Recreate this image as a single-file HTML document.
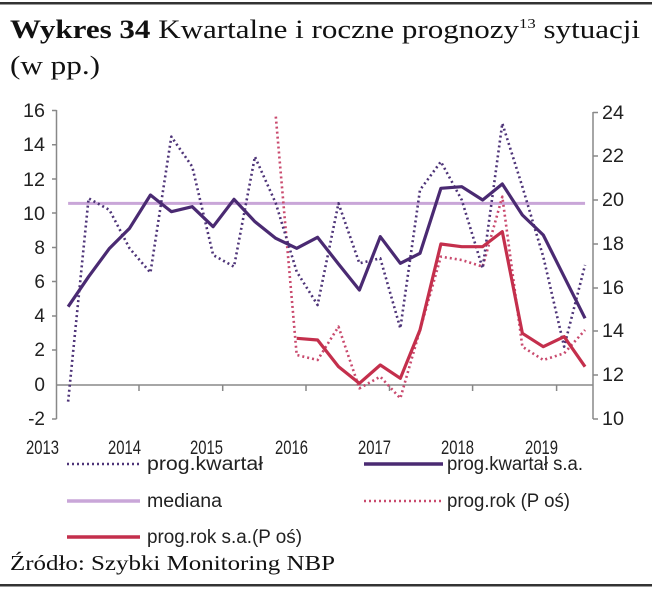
<!DOCTYPE html>
<html><head><meta charset="utf-8"><style>
body{margin:0;background:#fff;}
svg{display:block;}
.t{font-family:"Liberation Serif",serif;}
.a{font-family:"Liberation Sans",sans-serif;fill:#222;}
</style></head><body>
<svg width="652" height="593" viewBox="0 0 652 593">
<rect x="0" y="2" width="652" height="2.5" fill="#333"/>
<rect x="0" y="584" width="652" height="2.5" fill="#333"/>
<text class="t" x="10" y="38" font-size="26" fill="#111" textLength="630" lengthAdjust="spacingAndGlyphs"><tspan font-weight="bold">Wykres 34</tspan> Kwartalne i roczne prognozy<tspan font-size="14" dy="-10">13</tspan><tspan dy="10"> sytuacji</tspan></text>
<text class="t" x="10" y="74" font-size="26" fill="#111" textLength="90" lengthAdjust="spacingAndGlyphs">(w pp.)</text>
<g class="a" font-size="19" text-anchor="end">
<text x="45" y="117" textLength="22" lengthAdjust="spacingAndGlyphs">16</text><text x="45" y="151" textLength="22" lengthAdjust="spacingAndGlyphs">14</text><text x="45" y="186" textLength="22" lengthAdjust="spacingAndGlyphs">12</text><text x="45" y="220" textLength="22" lengthAdjust="spacingAndGlyphs">10</text><text x="45" y="254">8</text><text x="45" y="288">6</text><text x="45" y="322">4</text><text x="45" y="356">2</text><text x="45" y="391">0</text><text x="45" y="425">-2</text>
</g>
<g class="a" font-size="19">
<text x="602" y="119" textLength="22" lengthAdjust="spacingAndGlyphs">24</text><text x="602" y="162" textLength="22" lengthAdjust="spacingAndGlyphs">22</text><text x="602" y="206" textLength="22" lengthAdjust="spacingAndGlyphs">20</text><text x="602" y="250" textLength="22" lengthAdjust="spacingAndGlyphs">18</text><text x="602" y="294" textLength="22" lengthAdjust="spacingAndGlyphs">16</text><text x="602" y="337" textLength="22" lengthAdjust="spacingAndGlyphs">14</text><text x="602" y="381" textLength="22" lengthAdjust="spacingAndGlyphs">12</text><text x="602" y="425" textLength="22" lengthAdjust="spacingAndGlyphs">10</text>
</g>
<g class="a" font-size="19">
<text x="26" y="454" textLength="33" lengthAdjust="spacingAndGlyphs">2013</text><text x="108" y="454" textLength="33" lengthAdjust="spacingAndGlyphs">2014</text><text x="190" y="454" textLength="33" lengthAdjust="spacingAndGlyphs">2015</text><text x="275" y="454" textLength="33" lengthAdjust="spacingAndGlyphs">2016</text><text x="358" y="454" textLength="33" lengthAdjust="spacingAndGlyphs">2017</text><text x="441" y="454" textLength="33" lengthAdjust="spacingAndGlyphs">2018</text><text x="525" y="454" textLength="33" lengthAdjust="spacingAndGlyphs">2019</text>
</g>
<g stroke="#888" stroke-width="1.5" fill="none">
<path d="M56.5 110V419M52 110.5H56.5M52 144.7H56.5M52 179H56.5M52 213H56.5M52 247.5H56.5M52 281.5H56.5M52 316H56.5M52 350H56.5M52 419H56.5"/>
<path d="M593 112V419M593 112.5H598M593 156H598M593 200H598M593 244H598M593 288H598M593 331H598M593 375H598M593 419H598"/>
<path d="M56.5 385H593M139 385V391M222.7 385V391M306 385V391M389.5 385V391M472.6 385V391M556.6 385V391"/>
</g>
<g transform="translate(0,90) scale(0.41789,0.33333)" fill="none" stroke-linejoin="round">
<polyline vector-effect="non-scaling-stroke" stroke="#c9a6d8" stroke-width="3" points="163,340 1400,340"/>
<polyline vector-effect="non-scaling-stroke" stroke="#c94a6e" stroke-width="2.6" stroke-dasharray="2 3" points="660,80 710,795 760,810 810,710 860,895 910,860 958,925 1005,720 1055,500 1105,510 1155,530 1202,320 1250,770 1300,810 1350,790 1400,720"/>
<polyline vector-effect="non-scaling-stroke" stroke="#4e3478" stroke-width="2.6" stroke-dasharray="2 3" points="163,935 212,325 262,360 310,475 360,548 410,140 460,230 510,495 560,530 610,200 660,340 710,545 760,645 810,340 860,520 910,505 958,715 1005,300 1055,215 1105,330 1155,535 1202,100 1250,290 1300,500 1350,770 1400,525"/>
<polyline vector-effect="non-scaling-stroke" stroke="#c42f4c" stroke-width="3.2" points="710,745 760,750 810,830 860,880 910,825 958,865 1005,720 1055,462 1105,470 1155,470 1202,425 1250,730 1300,770 1350,740 1400,830"/>
<polyline vector-effect="non-scaling-stroke" stroke="#4a2a72" stroke-width="3.2" points="163,650 212,560 262,475 310,415 360,315 410,365 460,350 510,410 560,328 610,395 660,445 710,475 760,442 810,522 860,600 910,440 958,520 1005,490 1055,295 1105,290 1155,330 1202,282 1250,375 1300,435 1350,560 1400,685"/>
</g>
<g stroke-width="3.5">
<line x1="67" y1="464" x2="140" y2="464" stroke="#4e3478" stroke-width="2.5" stroke-dasharray="2 3"/>
<line x1="364" y1="464" x2="443" y2="464" stroke="#4a2a72"/>
<line x1="67" y1="501" x2="140" y2="501" stroke="#c9a6d8"/>
<line x1="364" y1="501" x2="443" y2="501" stroke="#c94a6e" stroke-width="2.5" stroke-dasharray="2 3"/>
<line x1="67" y1="537" x2="140" y2="537" stroke="#c42f4c"/>
</g>
<g class="a" font-size="19">
<text x="147" y="470" textLength="116" lengthAdjust="spacingAndGlyphs">prog.kwartał</text>
<text x="447" y="470" textLength="136" lengthAdjust="spacingAndGlyphs">prog.kwartał s.a.</text>
<text x="147" y="507" textLength="75" lengthAdjust="spacingAndGlyphs">mediana</text>
<text x="447" y="507" textLength="123" lengthAdjust="spacingAndGlyphs">prog.rok (P oś)</text>
<text x="147" y="543" textLength="155" lengthAdjust="spacingAndGlyphs">prog.rok s.a.(P oś)</text>
</g>
<text class="t" x="10" y="570" font-size="21" fill="#111" textLength="325" lengthAdjust="spacingAndGlyphs">Źródło: Szybki Monitoring NBP</text>
</svg>
</body></html>
